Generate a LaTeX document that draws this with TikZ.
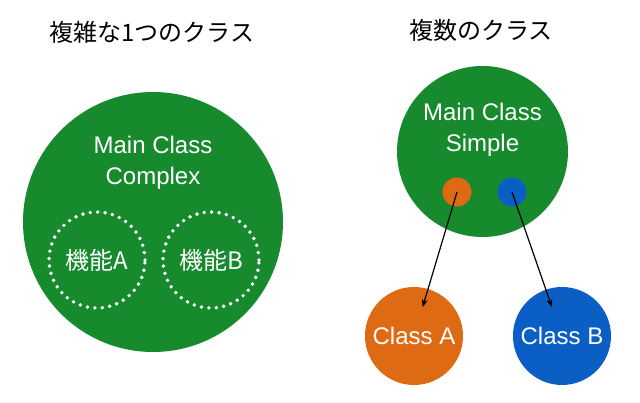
\documentclass[tikz,border=0pt]{standalone}
\usepackage{fontspec}
\setmainfont{Liberation Sans}
\newfontfamily\jpfont{Noto Sans CJK JP}
\usetikzlibrary{arrows.meta, calc}
\definecolor{mainfill}{HTML}{178A2E}
\definecolor{afill}{HTML}{DE6B14}
\definecolor{bfill}{HTML}{0B5FC4}
\tikzset{
  bigcls/.style = {circle, fill=mainfill, inner sep=0pt},
  featcls/.style= {circle, draw=white, line width=2.9pt, line cap=round,
                   dash pattern=on 0pt off 5.6pt, inner sep=0pt, minimum size=72pt,
                   text=white, font=\jpfont\fontsize{18}{22}\selectfont},
  subcls/.style = {circle, inner sep=0pt, minimum size=73.5pt, text=white,
                   font=\fontsize{18}{22}\selectfont},
  dotcls/.style = {circle, inner sep=0pt, minimum size=21.75pt},
  clsname/.style= {text=white, align=center, font=\fontsize{18}{23.5}\selectfont},
  ttl/.style    = {font=\jpfont\fontsize{18}{22}\selectfont},
  flow/.style   = {-{Stealth[length=6pt, width=4.5pt]}, line width=0.9pt, draw=black},
}
\begin{document}
\begin{tikzpicture}[x=0.75pt, y=0.75pt]
        \useasboundingbox (0,0) rectangle (640,403);
        % left: one complex class
        \node[ttl] (t1) at (152,371) {複雑な1つのクラス};
        \node[bigcls, minimum size=195pt] (big) at (153,181) {};
        \node[clsname] (bigname) at (153,240) {Main Class\\Complex};
        \node[featcls] (fa) at (97,143)  {機能A};
        \node[featcls] (fb) at (211,143) {機能B};
        % right: several classes
        \node[ttl] (t2) at (481,373) {複数のクラス};
        \node[bigcls, minimum size=128.25pt] (main) at (482.5,251.5) {};
        \node[clsname] (mainname) at (482.5,273) {Main Class\\Simple};
        \node[dotcls, fill=afill] (pa) at (457,211) {};
        \node[dotcls, fill=bfill] (pb) at (512,211) {};
        \node[subcls, fill=afill] (ca) at (414,67) {Class A};
        \node[subcls, fill=bfill] (cb) at (562,67) {Class B};
        \foreach \x/\y in {pa/ca, pb/cb}{\draw[flow] (\x.center) -- ($(\x.center)!0.8!(\y.center)$);}
    \end{tikzpicture}
\end{document}
